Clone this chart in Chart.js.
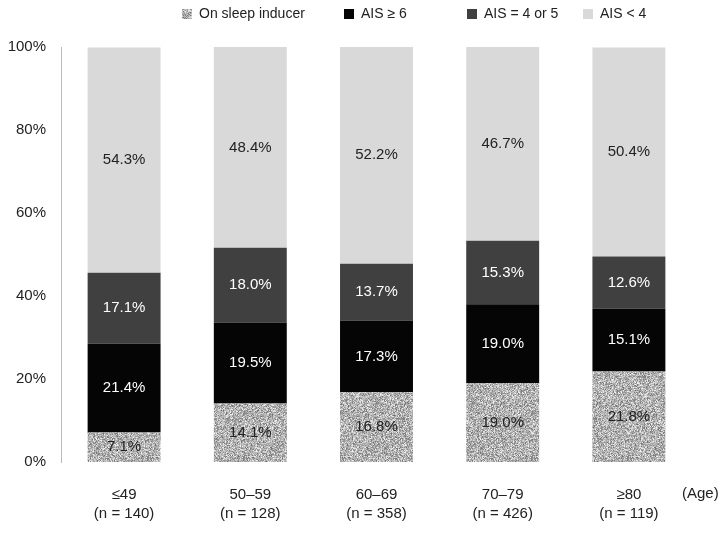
<!DOCTYPE html>
<html>
<head>
<meta charset="utf-8">
<script src="https://cdn.jsdelivr.net/npm/chart.js@4"></script>
<style>
  html, body { margin: 0; padding: 0; background: #fff; }
  #wrap { width: 728px; height: 536px; }
</style>
</head>
<body>
<div id="wrap"><canvas id="myChart" width="728" height="536"></canvas></div>
<script>
// Data
var ageGroups = [['\u226449', '(n = 140)'], ['50\u201359', '(n = 128)'], ['60\u201369', '(n = 358)'], ['70\u201379', '(n = 426)'], ['\u226580', '(n = 119)']];
var sleepInducer = [7.1, 14.1, 16.8, 19.0, 21.8];
var ais6 = [21.4, 19.5, 17.3, 19.0, 15.1];
var ais45 = [17.1, 18.0, 13.7, 15.3, 12.6];
var aisLow = [54.3, 48.4, 52.2, 46.7, 50.4];
var yTicks = [0, 20, 40, 60, 80, 100];

var FONT = '"Liberation Sans", Arial, sans-serif';

// speckled grey texture for the "on sleep inducer" segments
function makeNoise() {
    var c = document.createElement('canvas');
    c.width = 96; c.height = 96;
    var ctx = c.getContext('2d');
    var img = ctx.createImageData(96, 96);
    var seed = 12345;
    function rnd() {
        seed = (seed * 1103515245 + 12345) % 2147483648;
        return seed / 2147483648;
    }
    for (var i = 0; i < 96 * 96; i++) {
        var g = Math.round(178 + (rnd() + rnd() - 1) * 80);
        g = Math.max(115, Math.min(240, g));
        img.data[i * 4] = g;
        img.data[i * 4 + 1] = g;
        img.data[i * 4 + 2] = g;
        img.data[i * 4 + 3] = 255;
    }
    ctx.putImageData(img, 0, 0);
    return ctx.createPattern(c, 'repeat');
}
var noise = makeNoise();

// legend drawn by hand (items are not evenly spaced in the original)
var legendX = [182, 344, 467, 583];

var labelPlugin = {
    id: 'labels',
    afterDatasetsDraw: function(chart) {
        var ctx = chart.ctx;
        ctx.save();
        ctx.font = '15px ' + FONT;
        ctx.textAlign = 'center';
        ctx.textBaseline = 'middle';
        chart.data.datasets.forEach(function(ds, i) {
            var meta = chart.getDatasetMeta(i);
            meta.data.forEach(function(bar, j) {
                var mid = (bar.y + bar.base) / 2;
                ctx.fillStyle = ds.labelColor;
                ctx.fillText(ds.data[j].toFixed(1) + '%', bar.x, mid);
            });
        });

        // legend
        ctx.textAlign = 'left';
        ctx.font = '14px ' + FONT;
        chart.data.datasets.forEach(function(ds, i) {
            var x = legendX[i];
            ctx.fillStyle = ds.backgroundColor;
            ctx.fillRect(x, 9, 10, 10);
            ctx.fillStyle = '#222';
            ctx.fillText(ds.label, x + 17, 14);
        });

        // axis note
        ctx.font = '15px ' + FONT;
        ctx.fillText('(Age)', 682, 494);
        ctx.restore();
    }
};

var config = {
    type: 'bar',
    data: {
        labels: ageGroups,
        datasets: [{
            label: 'On sleep inducer',
            data: sleepInducer,
            backgroundColor: noise,
            labelColor: '#222'
        }, {
            label: 'AIS \u2265 6',
            data: ais6,
            backgroundColor: '#050505',
            labelColor: '#fff'
        }, {
            label: 'AIS = 4 or 5',
            data: ais45,
            backgroundColor: '#404040',
            labelColor: '#fff'
        }, {
            label: 'AIS < 4',
            data: aisLow,
            backgroundColor: '#d9d9d9',
            labelColor: '#222'
        }]
    },
    options: {
        responsive: false,
        animation: false,
        layout: {
            padding: { left: 7, right: 36, top: 47, bottom: 0 }
        },
        datasets: {
            bar: { categoryPercentage: 1, barPercentage: 0.578 }
        },
        plugins: {
            legend: { display: false },
            tooltip: { enabled: false }
        },
        scales: {
            x: {
                stacked: true,
                grid: { display: false, drawTicks: false },
                border: { display: false },
                afterFit: function(scale) { scale.height = 74; },
                ticks: {
                    color: '#222',
                    padding: 23,
                    font: { family: FONT, size: 15, lineHeight: 1.27 }
                }
            },
            y: {
                stacked: true,
                min: 0,
                max: 100,
                afterBuildTicks: function(axis) {
                    axis.ticks = yTicks.map(function(v) { return { value: v }; });
                },
                afterFit: function(scale) { scale.width = 54; },
                grid: { display: false, drawTicks: false },
                border: { display: true, color: '#bbb', width: 1 },
                ticks: {
                    color: '#222',
                    padding: 15,
                    font: { family: FONT, size: 15 },
                    callback: function(v) { return v + '%'; }
                }
            }
        }
    },
    plugins: [labelPlugin]
};

var myChart = new Chart(document.getElementById('myChart'), config);
</script>
</body>
</html>
